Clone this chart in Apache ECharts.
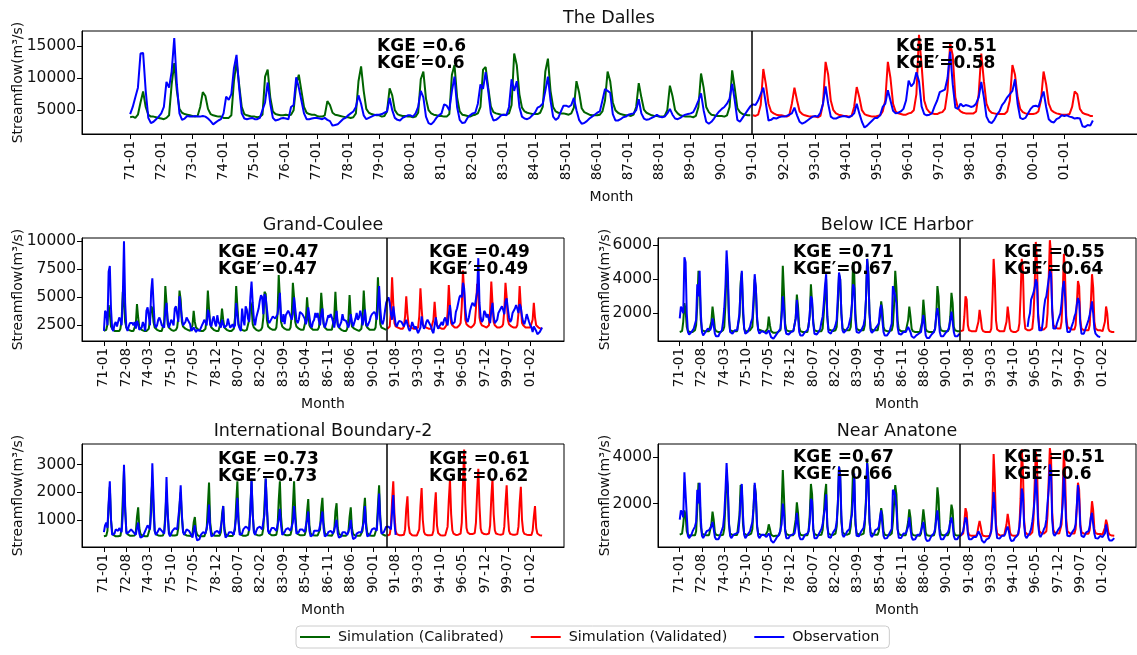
<!DOCTYPE html>
<html>
<head>
<meta charset="utf-8">
<script src="https://cdn.jsdelivr.net/npm/echarts@6/dist/echarts.min.js"></script>
<style>
  html, body { margin: 0; padding: 0; background: #fff; }
  #chart { width: 1137px; height: 655px; }
</style>
</head>
<body>
<div id="chart"></div>
<script>
// monthly series, 1971-01 .. 2001-12 (372 months); sim = calibrated up to 1990-12, validated after
const splitIndex = 239.5;
const calibEnd = 240;

const dallesTicks = ['71-01','72-01','73-01','74-01','75-01','76-01','77-01','78-01','79-01','80-01',
  '81-01','82-01','83-01','84-01','85-01','86-01','87-01','88-01','89-01','90-01',
  '91-01','92-01','93-01','94-01','95-01','96-01','97-01','98-01','99-01','00-01','01-01'];
const stationTicks = ['71-01','72-08','74-03','75-10','77-05','78-12','80-07','82-02','83-09','85-04',
  '86-11','88-06','90-01','91-08','93-03','94-10','96-05','97-12','99-07','01-02'];

const dallesSim = [
  3900,4000,3800,4300,6200,7900,5500,4300,4000,4000,3900,3800,
  3700,3600,3800,4200,9000,12300,8000,5200,4600,4400,4300,4200,
  4100,4000,4100,5500,7800,7200,5200,4400,4200,4100,4000,4000,
  3800,3800,3800,4200,9500,12500,9000,5500,4400,4200,4100,4000,
  4000,3900,4000,4300,10200,11300,7000,4800,4400,4300,4200,4200,
  4300,4200,4300,5000,9000,10500,8000,5500,4600,4400,4300,4300,
  4100,4000,4000,4200,6400,5800,4600,4300,4200,4100,4000,3900,
  3900,3800,3900,4500,9500,11800,8000,5200,4600,4400,4300,4200,
  4200,4000,4100,4800,8400,7300,5000,4400,4200,4100,4100,4000,
  4000,3900,4000,4600,9800,11000,6800,5000,4500,4300,4200,4100,
  4100,4000,4000,4400,10500,12000,7000,4800,4300,4200,4100,4000,
  4200,4300,4500,5500,11300,11700,8500,5600,4700,4500,4400,4300,
  4300,4300,4500,5800,13800,12000,7500,5400,4800,4600,4500,4400,
  4400,4400,4600,5500,11000,13000,8000,5500,4800,4600,4500,4500,
  4400,4300,4500,5400,9500,7800,5300,4700,4500,4300,4200,4200,
  4200,4300,4800,6500,11000,9500,6200,5000,4600,4400,4300,4200,
  4200,4100,4300,5500,9200,7000,5100,4600,4400,4200,4100,4100,
  4000,4000,4100,5000,8800,7200,5000,4500,4200,4100,4000,4000,
  4000,3900,4100,5500,10700,8500,5500,4700,4300,4200,4100,4100,
  4100,4000,4200,5500,11200,8400,5300,4700,4400,4300,4200,4200,
  4200,4100,4300,5800,11400,9000,6000,4800,4500,4300,4200,4200,
  4100,4000,4200,6000,8500,6500,4800,4400,4200,4100,4000,4000,
  4000,3900,4100,6000,12500,10500,6500,5000,4500,4300,4200,4100,
  4100,4000,4100,5500,8600,7000,5000,4400,4200,4100,4000,4000,
  4100,4200,4800,6500,12500,10000,6000,4800,4500,4400,4300,4300,
  4500,4600,5000,7500,16700,12000,6500,5200,4700,4500,4400,4400,
  4600,4700,5200,8000,15400,13500,7000,5300,4800,4600,4500,4500,
  4500,4500,4800,7500,13800,9500,6000,5000,4600,4500,4400,4400,
  4400,4400,4800,6500,12000,10500,7000,5200,4700,4500,4400,4400,
  4400,4500,4800,6500,11000,9000,6000,5000,4700,4500,4400,4300,
  4300,4300,4400,5500,7900,7500,5200,4600,4400,4300,4100,4100
];
const dallesObs = [
  4400,5500,7000,8500,13800,13900,8000,3800,3000,3200,3600,4000,
  4500,5500,9400,8500,11000,16200,9000,4500,3500,3700,4100,4000,
  4000,4100,4000,4000,4100,4000,3700,3300,2800,3100,3400,3600,
  4500,7100,6600,7500,11500,13600,8500,4500,3700,3600,3700,3800,
  3600,3600,3800,5000,6200,9300,6000,3800,3400,3500,3700,3800,
  3700,3600,5500,5800,10100,8500,6500,4500,3600,3600,3700,3800,
  3800,3700,3600,3800,3500,3300,2600,2700,2800,3200,3600,3800,
  4200,4500,4800,5500,7300,6000,4200,3600,3800,4000,4200,4300,
  4300,4400,4600,4800,6900,5000,3800,3500,3400,3800,4000,4200,
  4200,4000,4500,5500,8000,7000,4000,3000,2800,3200,3800,4200,
  4500,5900,5700,5000,8000,10200,5500,3500,3000,3100,3800,4200,
  4500,4600,6000,9000,8300,10900,8000,4500,3400,3500,3800,4200,
  4300,4200,5500,9800,8000,9500,5500,4000,3700,3600,3800,4200,
  4600,5400,5600,6000,8000,10200,6500,4000,3500,3800,4800,5700,
  5700,5500,5800,6900,5000,3500,2900,3000,3300,3700,4000,4300,
  4600,4800,6500,8300,8000,7700,4400,3400,3400,3600,3900,4000,
  4300,4400,4500,5000,6700,4500,3700,3500,3600,3800,4000,4300,
  4000,3900,4000,4500,5200,4300,3700,3600,3800,4100,4300,4400,
  4500,4700,5500,6500,7600,5000,3200,2900,3200,3700,4300,4800,
  5200,5500,6000,6800,9100,6500,3500,3200,3800,4400,5000,5600,
  5900,5800,6500,7500,8500,6000,3400,3500,3800,3700,3900,4000,
  4000,4100,4300,4500,5400,4200,3200,2900,3100,3400,3700,4000,
  4100,4000,4600,6000,8700,6000,4000,3700,3700,3900,4000,4100,
  4000,3900,4100,4500,6000,4500,3200,2300,2600,3000,3400,3800,
  3800,4200,5500,6000,8100,6500,4900,4500,4600,4800,5200,6500,
  9600,8700,9200,10900,9500,5600,4400,4200,4300,4500,5600,6500,
  7800,8000,8200,10000,14100,9000,5400,5200,6000,5600,5800,5700,
  5500,5600,6000,7000,9400,7000,4000,3200,3000,3500,4300,4800,
  5800,6300,7000,7500,8000,9800,6000,3800,3600,3800,4500,5200,
  5600,5700,5500,6800,7900,5500,3600,3200,3100,3600,3800,4200,
  4100,4200,4000,3900,3700,3800,3700,2500,2400,2700,2600,3400
];

const couleeSim = [
  2000,2000,2100,2600,4300,3500,2400,2200,2100,2000,2000,2000,
  2000,2000,2200,3000,5500,4500,2800,2300,2200,2100,2000,2000,
  2000,2000,2100,2600,4400,3200,2300,2200,2100,2000,2000,2000,
  2000,2000,2200,3000,4200,4000,2800,2300,2200,2100,2100,2000,
  2000,2000,2100,2800,6000,4500,2600,2300,2200,2100,2100,2000,
  2100,2100,2300,3200,5600,4800,2800,2400,2300,2200,2100,2100,
  2100,2000,2100,2500,3800,2800,2300,2200,2100,2100,2000,2000,
  2000,2000,2200,3200,5600,4000,2600,2300,2200,2100,2100,2000,
  2000,2000,2100,2800,4000,3000,2300,2200,2100,2100,2000,2000,
  2000,2000,2200,3200,6000,4200,2600,2300,2200,2100,2000,2000,
  2000,2100,2200,3000,4600,4200,2600,2300,2200,2100,2100,2000,
  2100,2100,2300,3200,5500,5300,3000,2400,2300,2200,2100,2100,
  2100,2100,2300,3500,7000,5000,2800,2400,2300,2200,2200,2100,
  2100,2100,2300,3400,6300,5000,2800,2400,2300,2200,2100,2100,
  2100,2100,2200,3000,5000,3600,2500,2300,2200,2100,2100,2100,
  2100,2100,2300,3200,5400,4000,2600,2300,2200,2100,2100,2100,
  2100,2100,2200,3200,5500,3500,2500,2300,2200,2100,2100,2000,
  2000,2000,2200,3000,5200,3400,2400,2300,2200,2100,2100,2000,
  2000,2000,2200,3200,5600,3800,2500,2300,2200,2100,2100,2100,
  2100,2100,2300,3500,6800,4500,2600,2300,2200,2200,2100,2100,
  2200,2200,2400,3800,6800,4500,2700,2400,2300,2300,2200,2200,
  2200,2200,2400,3300,5100,3500,2500,2400,2300,2200,2200,2200,
  2200,2200,2300,3300,5800,4000,2600,2400,2300,2300,2200,2200,
  2200,2200,2300,3000,4600,3200,2500,2400,2300,2200,2200,2200,
  2200,2300,2500,3600,6100,4200,2700,2500,2400,2300,2300,2300,
  2400,2500,2700,4200,7400,5500,3000,2600,2500,2400,2400,2300,
  2400,2500,2700,4000,6200,5800,3200,2700,2500,2400,2400,2300,
  2300,2300,2500,3800,6400,4500,2800,2500,2400,2300,2300,2300,
  2300,2400,2600,3800,6300,5000,3000,2600,2500,2400,2300,2300,
  2300,2300,2500,3600,6000,4200,2700,2500,2400,2300,2300,2300,
  2300,2300,2400,3000,4500,3200,2500,2400,2300,2300,2200,2200
];
const couleeObs = [
  2000,3800,3600,2500,7300,7800,4000,2200,2000,2600,2800,2400,
  2500,3200,3000,2500,5000,10000,4500,2300,2000,2400,2700,2600,
  2700,2500,2800,2200,2900,2600,2100,2000,2300,2800,2500,2000,
  3800,4100,4200,2500,5500,6700,4500,2600,2300,2500,3000,3200,
  2900,2500,2600,2300,3800,4500,3000,2300,2600,3000,2800,2500,
  4000,4200,3500,2800,5100,5200,3200,2500,2400,2800,3200,3000,
  3100,2600,2000,1900,2300,2200,1900,2100,2200,2000,2100,2500,
  2700,3000,2800,2500,3900,3500,2600,2400,3000,3300,2700,2400,
  3400,2800,2600,2300,3000,2600,2300,2200,2500,3100,2600,2300,
  2400,2600,2300,2500,4500,3500,2500,2200,2000,4000,3000,2500,
  4200,3900,3100,2800,5000,6400,4500,3000,2500,3200,3600,4000,
  4700,5200,5000,3500,5300,5000,4000,3000,2700,2900,3100,3300,
  3200,3100,3000,3500,4200,5400,3200,2800,3500,2600,3400,3600,
  3800,3600,3300,3000,3500,5000,4000,3000,2700,3000,3700,3800,
  3500,3300,3100,2600,3000,4100,3300,2500,2300,2800,3000,3600,
  3200,3600,2900,2500,3500,4000,2700,2300,2600,3000,3400,3200,
  3500,3200,2800,2300,3000,3800,2600,2300,2400,2800,3500,3000,
  3100,2900,2600,2300,2700,3500,2800,2400,2500,3100,3600,3000,
  3200,3800,3400,2500,3000,3900,2700,2400,2500,2900,3300,3500,
  3600,3700,3500,3000,4200,6000,4000,2800,2600,3000,3800,4500,
  4800,5000,4500,3500,3000,4200,3400,2600,2400,2700,2900,3000,
  2800,2700,2400,2300,3000,2600,2200,2000,2300,2800,2500,2200,
  2400,2100,1800,1700,2300,3300,2600,2200,2400,2800,3000,2800,
  2600,2400,2000,1800,2500,3200,2500,2200,2300,2600,2800,2500,
  3000,3200,2800,2500,3500,4300,3200,2600,2500,2800,3700,4000,
  4500,5000,5200,5000,6300,5800,4000,3000,2800,3200,3800,4200,
  4500,4600,4200,4100,5500,8500,4500,3200,2800,3000,3800,3600,
  3200,3500,3000,2700,3800,4500,3300,2700,2600,3000,3600,3800,
  3900,4200,3900,3500,4600,4900,4000,3200,2800,3000,3600,3800,
  4000,4300,4000,3600,4400,4100,3300,2800,2600,3000,3500,3400,
  2800,2500,2300,1900,2400,2500,2000,1700,1600,1900,1800,2300
];

const iceSim = [
  900,900,950,1500,2600,2200,1200,950,900,900,900,900,
  950,1000,1300,2500,4500,3800,1600,1000,950,950,950,950,
  950,950,1000,1500,2400,1800,1100,950,900,900,900,900,
  950,1000,1200,2500,4900,4000,1600,1000,950,950,950,950,
  950,950,1000,1800,3800,4400,2000,1100,950,950,950,950,
  1000,1000,1200,2400,4000,3500,1600,1050,1000,1000,950,950,
  900,900,900,1100,1800,1300,950,900,850,850,850,900,
  900,900,1000,2200,4800,3200,1400,1000,950,950,950,950,
  950,950,1000,1700,3100,2400,1200,950,900,900,900,900,
  900,900,1000,1800,3700,3600,1500,1000,950,950,950,950,
  950,950,1100,2000,3000,4000,1800,1050,1000,1000,950,950,
  1000,1000,1200,2400,4300,4000,2000,1100,1000,1000,1000,1000,
  1000,1000,1200,2500,5000,4300,2000,1100,1000,1000,1000,1000,
  1000,1000,1300,2800,5200,4500,2000,1100,1000,1000,1000,1000,
  1000,1000,1100,1800,2700,2200,1200,1000,950,950,950,950,
  950,1000,1300,2500,4500,3500,1600,1050,1000,950,950,950,
  950,950,1000,1600,2400,1800,1100,950,900,900,900,900,
  900,900,1000,1500,2800,2000,1100,950,900,900,900,900,
  900,900,1100,1800,3600,3000,1300,1000,950,950,950,950,
  950,950,1100,1800,3200,2600,1200,1000,950,950,950,950,
  950,950,1000,1800,3000,2800,1300,1000,950,950,950,950,
  950,950,1000,1500,2200,1700,1100,950,900,900,900,900,
  900,900,1100,2800,5200,4000,1600,1050,1000,950,950,950,
  950,950,1000,1500,2400,1800,1100,950,900,900,900,900,
  950,1000,1400,3000,5200,4500,1800,1100,1000,1000,1000,1000,
  1050,1100,1800,3500,6200,5000,2000,1200,1100,1050,1050,1050,
  1100,1200,2000,4000,6300,5500,2200,1300,1200,1150,1100,1100,
  1100,1100,1500,3200,5500,4200,1800,1200,1100,1100,1050,1050,
  1050,1050,1300,2500,3900,3600,1600,1100,1050,1000,1000,1000,
  1000,1000,1300,2600,4300,3500,1500,1100,1050,1000,1000,1000,
  950,950,1000,1500,2400,2000,1100,950,900,900,900,900
];
const iceObs = [
  1700,2400,2300,2000,5300,5000,2000,900,750,800,900,1000,
  1100,1200,1600,3700,3000,4500,2000,900,700,750,900,1000,
  1100,1100,1000,1200,1700,1300,800,650,600,650,800,900,
  1000,1500,2300,3500,5700,4500,2000,900,800,800,900,1000,
  1000,1000,1100,2000,3500,4500,2500,1100,800,800,900,1000,
  1200,1500,1700,2800,4300,3500,1800,1000,800,850,950,1000,
  900,850,800,800,1000,900,600,500,500,550,700,800,
  900,1000,1100,1800,3000,2300,1100,800,700,750,850,900,
  900,950,1000,1700,2800,1800,900,700,650,700,800,900,
  900,1000,1200,2000,3000,2800,1400,800,700,750,850,950,
  1100,1500,1800,2600,3600,4300,1800,900,800,800,950,1000,
  1100,1300,1600,3000,4400,4000,2000,1000,850,900,1000,1100,
  1200,1300,1800,2500,3700,3500,1600,900,800,850,950,1000,
  1100,1300,1700,2800,5200,4300,2000,1000,850,900,1000,1100,
  1200,1200,1400,2200,2500,1600,900,700,650,700,800,900,
  1000,1400,3600,3300,3000,2600,1200,800,700,750,850,900,
  900,900,1000,1200,1300,900,650,550,550,600,700,800,
  800,800,900,1400,1900,1300,700,550,500,550,650,750,
  800,900,1100,1900,2300,1800,900,650,600,650,750,850,
  900,1000,1200,1600,2100,2000,900,650,600,650,750,800,
  null,null,null,null,null,null,null,null,null,null,null,null,
  null,null,null,null,null,null,null,null,null,null,null,null,
  null,null,null,null,null,null,null,null,null,null,null,null,
  null,null,null,null,null,null,null,null,null,null,null,null,
  null,null,null,null,null,null,null,null,null,1200,1700,2000,
  2800,3000,3200,3500,4000,3800,1800,1000,900,1000,1500,2300,
  2800,3000,3500,4000,4500,4300,2200,1100,1000,1100,1400,1600,
  1800,2000,2600,3500,3900,3000,1500,900,800,900,1100,1300,
  1500,1800,2000,2500,2900,2700,1400,800,750,800,1000,1200,
  1400,1600,1900,2300,2700,2000,1100,800,700,650,600,600,
  null,null,null,null,null,null,null,null,null,null,null,null
];

const boundarySim = [
  400,400,420,600,1500,2200,1000,550,450,420,400,400,
  400,400,420,700,1800,2800,1300,600,480,450,420,420,
  420,420,430,550,1100,1450,700,480,430,420,400,400,
  400,400,420,700,1800,2400,1300,600,480,450,430,420,
  420,420,430,550,1200,2000,1200,600,470,450,430,420,
  430,430,450,700,1500,2000,1100,600,480,450,430,430,
  420,400,410,500,900,1100,600,450,420,400,400,400,
  400,400,420,650,1500,2350,900,550,450,430,420,420,
  420,410,420,550,1200,1500,700,480,430,420,410,410,
  410,410,430,650,1600,2400,1000,550,460,440,420,420,
  420,420,450,650,1500,2400,1200,600,480,450,440,430,
  430,430,460,700,1600,2500,1400,650,500,460,440,440,
  440,440,460,700,1700,2400,1100,600,480,460,440,440,
  440,440,460,650,1500,2400,1300,620,490,460,440,440,
  440,430,450,600,1300,1750,800,500,450,440,430,430,
  430,430,450,650,1400,1800,900,520,460,440,430,430,
  430,420,440,600,1300,1600,700,490,440,430,420,420,
  420,420,430,550,1100,1450,700,480,440,420,420,420,
  420,420,440,600,1300,1800,900,520,450,430,420,420,
  420,420,440,700,1500,2250,1100,560,470,450,430,430,
  430,430,460,750,1700,2400,1200,600,480,460,440,440,
  440,440,460,650,1400,1850,800,520,460,440,430,430,
  430,430,450,650,1500,2150,1000,560,470,450,440,440,
  440,440,450,600,1400,2000,800,520,460,440,430,430,
  430,440,470,750,1700,2450,1200,620,500,470,450,450,
  460,470,500,900,2300,3550,1600,700,540,500,480,470,
  480,480,520,900,2000,2850,1500,680,530,500,480,470,
  470,470,500,800,1800,2500,1200,620,500,480,470,460,
  460,460,480,750,1600,2250,1200,600,490,470,460,460,
  460,460,480,750,1600,2200,1000,580,490,470,460,450,
  450,440,450,600,1100,1500,700,500,460,440,430,430
];
const boundaryObs = [
  550,800,900,700,1600,2400,1000,450,400,500,650,700,
  600,700,650,550,1200,3000,1500,500,450,550,600,650,
  600,550,500,450,700,900,500,350,300,400,500,550,
  700,800,750,650,1300,3050,1800,600,450,500,600,700,
  650,600,550,500,1000,2550,1300,500,400,500,600,650,
  700,750,650,600,1500,2250,1200,550,450,550,650,700,
  600,550,450,350,600,800,400,250,200,300,450,500,
  550,600,500,450,900,1550,700,400,350,450,550,600,
  600,550,500,450,1000,1500,600,350,300,450,550,600,
  550,500,450,500,1100,1800,900,450,400,500,650,700,
  750,800,700,600,1300,2500,1200,550,450,600,700,750,
  750,750,650,650,1200,2500,1500,600,500,600,700,700,
  700,650,600,600,1000,1400,800,450,400,550,650,700,
  700,700,600,550,900,1500,1000,500,450,550,650,700,
  650,600,550,500,1000,1300,600,400,350,450,600,650,
  600,650,600,550,1000,1300,700,400,350,450,550,600,
  600,550,500,450,800,1000,500,350,300,400,550,600,
  550,500,450,400,700,1000,500,300,250,350,500,550,
  550,600,550,500,900,1500,700,400,350,450,550,650,
  650,700,650,600,1200,1950,1000,500,450,550,650,750,
  800,750,700,650,1300,1900,900,450,null,null,null,null,
  null,null,null,null,null,null,null,null,null,null,null,null,
  null,null,null,null,null,null,null,null,null,null,null,null,
  null,null,null,null,null,null,null,null,null,null,null,null,
  null,null,null,null,null,null,null,null,null,null,null,null,
  null,null,null,null,null,null,null,null,null,null,null,null,
  null,null,null,null,null,null,null,null,null,null,null,null,
  null,null,null,null,null,null,null,null,null,null,null,null,
  null,null,null,null,null,null,null,null,null,null,null,null,
  null,null,null,null,null,null,null,null,null,null,null,null,
  null,null,null,null,null,null,null,null,null,null,null,null
];

const anatoneSim = [
  650,650,700,1100,1700,1500,800,650,600,600,620,630,
  620,620,800,1800,2900,2300,1000,700,650,640,630,630,
  630,630,700,1100,1650,1300,750,650,620,620,620,620,
  620,650,900,2000,3200,2700,1100,700,650,640,640,640,
  640,640,700,1500,2800,2700,1100,700,650,640,640,640,
  650,700,900,1800,2800,2400,1000,700,650,650,640,640,
  620,620,640,800,1100,900,650,600,580,580,600,600,
  600,620,800,1800,3450,2300,900,680,640,630,630,630,
  630,630,700,1300,2050,1600,800,650,620,620,620,620,
  620,630,800,1500,2850,2400,900,680,640,630,630,630,
  630,650,850,1500,2400,2850,1000,700,650,640,640,640,
  650,700,1000,2000,3600,3200,1200,750,680,660,650,650,
  650,700,1000,1900,3500,3000,1100,720,670,650,650,650,
  660,700,1100,2200,3800,3200,1200,750,680,660,650,650,
  650,650,800,1300,1800,1500,800,650,620,620,620,620,
  630,700,1200,2000,2800,2400,900,680,640,630,630,630,
  630,630,700,1200,1750,1400,750,640,610,610,610,610,
  600,600,700,1200,1750,1300,750,630,600,600,600,600,
  600,620,800,1600,2700,2200,900,660,620,620,620,620,
  620,630,750,1300,1950,1700,800,640,610,610,610,610,
  610,620,700,1200,1800,1600,800,640,600,600,600,600,
  600,600,700,1000,1250,1000,700,600,580,580,580,580,
  580,600,900,2000,4150,3000,1100,700,650,630,620,620,
  620,620,700,1100,1550,1200,750,630,600,600,600,600,
  610,650,1000,2200,4350,3500,1300,750,680,660,650,650,
  700,750,1300,2800,4250,3800,1400,800,720,700,700,700,
  720,800,1500,3000,4400,4000,1600,850,750,720,710,700,
  700,720,1100,2600,4300,3200,1300,800,730,710,700,700,
  700,700,900,1800,2900,2600,1100,760,720,700,690,690,
  690,690,850,1400,2100,1700,900,720,690,680,680,680,
  660,660,700,950,1300,1100,750,650,620,610,600,600
];
const anatoneObs = [
  1300,1700,1600,1400,3350,3300,1500,600,500,550,650,800,
  900,1000,1200,2600,2000,2900,1300,600,500,550,700,800,
  850,850,800,1000,1200,900,550,450,420,450,550,700,
  750,1000,1500,2500,3750,2800,1200,600,500,550,650,700,
  700,700,750,1300,2200,2850,1500,650,500,550,650,700,
  800,1000,1200,1800,2900,2300,1100,600,500,550,650,700,
  650,600,550,550,700,600,400,350,300,350,450,550,
  600,650,700,1100,2000,1600,800,500,450,500,600,650,
  650,650,700,1000,1600,1100,600,450,420,450,550,650,
  650,700,800,1200,2200,2100,900,500,450,500,600,700,
  750,900,1100,1500,1800,2400,1100,550,480,520,650,750,
  800,900,1200,2000,3600,3200,1500,650,550,600,700,800,
  850,900,1300,1500,2200,3300,1300,600,520,580,700,800,
  850,950,1300,2000,3750,3000,1300,650,550,600,700,850,
  900,900,1000,1400,1700,1100,600,480,450,500,600,700,
  700,900,2600,2500,2300,1800,900,520,470,500,600,700,
  700,700,750,1000,1400,900,550,430,400,450,550,650,
  650,650,700,1000,1200,800,480,380,350,400,500,600,
  650,700,900,1300,1700,1200,650,450,420,450,550,650,
  700,750,900,1200,1400,1100,600,450,430,450,550,600,
  620,650,800,1100,1400,1300,700,450,420,450,500,550,
  550,550,650,800,800,600,400,320,300,350,450,500,
  500,550,800,1500,2500,1900,900,500,450,480,550,600,
  600,600,700,900,1000,800,500,380,350,400,500,550,
  600,700,1000,1600,2650,2400,1100,600,500,550,650,750,
  900,1200,1600,2200,3200,2500,1100,650,550,600,750,900,
  1000,1300,2000,2600,3700,3400,1300,700,600,650,750,850,
  900,1000,1400,2000,3400,2300,1000,600,520,580,650,750,
  800,900,1100,1900,2800,2200,1000,600,520,550,650,750,
  750,800,1000,1400,1600,1100,700,500,450,480,550,600,
  550,550,600,700,1100,800,500,400,380,400,450,500
];

const stations = [
  { title: 'The Dalles', sim: dallesSim, obs: dallesObs, ticks: dallesTicks, step: 12,
    yMin: 1300, yMax: 17300, yTicks: [5000, 10000, 15000],
    kge: [['KGE =0.6', 'KGE\u2032=0.6'], ['KGE =0.51', 'KGE\u2032=0.58']] },
  { title: 'Grand-Coulee', sim: couleeSim, obs: couleeObs, ticks: stationTicks, step: 19,
    yMin: 1100, yMax: 10300, yTicks: [2500, 5000, 7500, 10000],
    kge: [['KGE =0.47', 'KGE\u2032=0.47'], ['KGE =0.49', 'KGE\u2032=0.49']] },
  { title: 'Below ICE Harbor', sim: iceSim, obs: iceObs, ticks: stationTicks, step: 19,
    yMin: 370, yMax: 6430, yTicks: [2000, 4000, 6000],
    kge: [['KGE =0.71', 'KGE\u2032=0.67'], ['KGE =0.55', 'KGE\u2032=0.64']] },
  { title: 'International Boundary-2', sim: boundarySim, obs: boundaryObs, ticks: stationTicks, step: 19,
    yMin: 12, yMax: 3750, yTicks: [1000, 2000, 3000],
    kge: [['KGE =0.73', 'KGE\u2032=0.73'], ['KGE =0.61', 'KGE\u2032=0.62']] },
  { title: 'Near Anatone', sim: anatoneSim, obs: anatoneObs, ticks: stationTicks, step: 19,
    yMin: 116, yMax: 4580, yTicks: [2000, 4000],
    kge: [['KGE =0.67', 'KGE\u2032=0.66'], ['KGE =0.51', 'KGE\u2032=0.6']] }
];

// panel boxes (px) and annotation anchors
const grids = [
  { left: 82, top: 31, right: -4, height: 103 },
  { left: 82, top: 238, width: 482, height: 103 },
  { left: 658, top: 238, width: 478, height: 103 },
  { left: 82, top: 444, width: 482, height: 103 },
  { left: 658, top: 444, width: 478, height: 103 }
];
const titlePos = [[609, 18], [323, 225], [897, 225], [323, 431], [897, 431]];
const kgePos = [
  [[377, 55], [896, 55]],
  [[218, 261], [429, 261]],
  [[793, 261], [1004, 261]],
  [[218, 468], [429, 468]],
  [[793, 466], [1004, 466]]
];

const FONT = 'DejaVu Sans';
const xAxes = [], yAxes = [], series = [], graphics = [];

stations.forEach((st, k) => {
  const custom = st.ticks.map((_, i) => i * st.step);
  xAxes.push({
    type: 'value', gridIndex: k, min: -18.55, max: 389.55,
    name: 'Month', nameLocation: 'middle', nameGap: 56, nameMoveOverlap: false,
    nameTextStyle: { fontFamily: FONT, fontSize: 14, color: '#111' },
    axisLine: { show: true, onZero: false, lineStyle: { color: '#000', width: 1 } },
    axisTick: { show: true, length: 5, customValues: custom, lineStyle: { color: '#000' } },
    axisLabel: {
      rotate: 90, margin: 7, fontFamily: FONT, fontSize: 13.5, color: '#111',
      customValues: custom,
      formatter: (v) => st.ticks[Math.round(v / st.step)] || ''
    },
    splitLine: { show: false }
  });
  yAxes.push({
    type: 'value', gridIndex: k, min: st.yMin, max: st.yMax,
    name: 'Streamflow(m\u00b3/s)', nameLocation: 'middle', nameMoveOverlap: false,
    nameGap: (k === 2 || k === 4) ? 46 : 57,
    nameTextStyle: { fontFamily: FONT, fontSize: 14, color: '#111' },
    axisLine: { show: true, onZero: false, lineStyle: { color: '#000', width: 1 } },
    axisTick: { show: true, length: 5, customValues: st.yTicks, lineStyle: { color: '#000' } },
    axisLabel: {
      fontFamily: FONT, fontSize: 15.5, color: '#111', margin: 6, customValues: st.yTicks,
      formatter: (v) => String(v)
    },
    splitLine: { show: false }
  });

  const calib = [], valid = [], obs = [];
  st.sim.forEach((v, i) => {
    if (i < calibEnd) calib.push([i, v]); else valid.push([i, v]);
  });
  st.obs.forEach((v, i) => obs.push([i, v === null ? '-' : v]));

  series.push({
    name: 'Simulation (Calibrated)', type: 'line', xAxisIndex: k, yAxisIndex: k,
    data: calib, showSymbol: false, lineStyle: { color: '#006400', width: 2 }, itemStyle: { color: '#006400' },
    markLine: {
      silent: true, symbol: 'none', label: { show: false },
      lineStyle: { color: '#000', width: 1.5, type: 'solid' },
      data: [{ xAxis: splitIndex }]
    }
  });
  series.push({
    name: 'Simulation (Validated)', type: 'line', xAxisIndex: k, yAxisIndex: k,
    data: valid, showSymbol: false, lineStyle: { color: '#ff0000', width: 2 }, itemStyle: { color: '#ff0000' }
  });
  series.push({
    name: 'Observation', type: 'line', xAxisIndex: k, yAxisIndex: k,
    data: obs, showSymbol: false, connectNulls: false,
    lineStyle: { color: '#0000ff', width: 2 }, itemStyle: { color: '#0000ff' }
  });

  graphics.push({
    type: 'text', x: titlePos[k][0], y: titlePos[k][1],
    style: { text: st.title, font: '17.5px ' + FONT, fill: '#111', textAlign: 'center', textVerticalAlign: 'middle' }
  });
  st.kge.forEach((pair, j) => {
    graphics.push({
      type: 'text', x: kgePos[k][j][0], y: kgePos[k][j][1], z: 100,
      style: { text: pair.join('\n'), font: 'bold 17px ' + FONT, fill: '#000', lineHeight: 17, textVerticalAlign: 'middle' }
    });
  });
});

const chart = echarts.init(document.getElementById('chart'), null, { renderer: 'canvas' });
chart.setOption({
  animation: false,
  backgroundColor: '#fff',
  grid: grids.map(g => Object.assign({
    show: true, borderColor: '#000', borderWidth: 1, backgroundColor: 'transparent',
    containLabel: false, outerBoundsMode: 'none'
  }, g)),
  xAxis: xAxes,
  yAxis: yAxes,
  series: series,
  graphic: graphics,
  legend: {
    data: ['Simulation (Calibrated)', 'Simulation (Validated)', 'Observation'],
    left: 296, top: 626,
    icon: 'rect', itemWidth: 30, itemHeight: 2, itemGap: 27,
    padding: [4, 10, 4, 4],
    borderColor: '#ccc', borderWidth: 1, borderRadius: 4,
    textStyle: { fontFamily: FONT, fontSize: 14.3, color: '#111', padding: [0, 0, 0, 3] }
  }
});
</script>
</body>
</html>
